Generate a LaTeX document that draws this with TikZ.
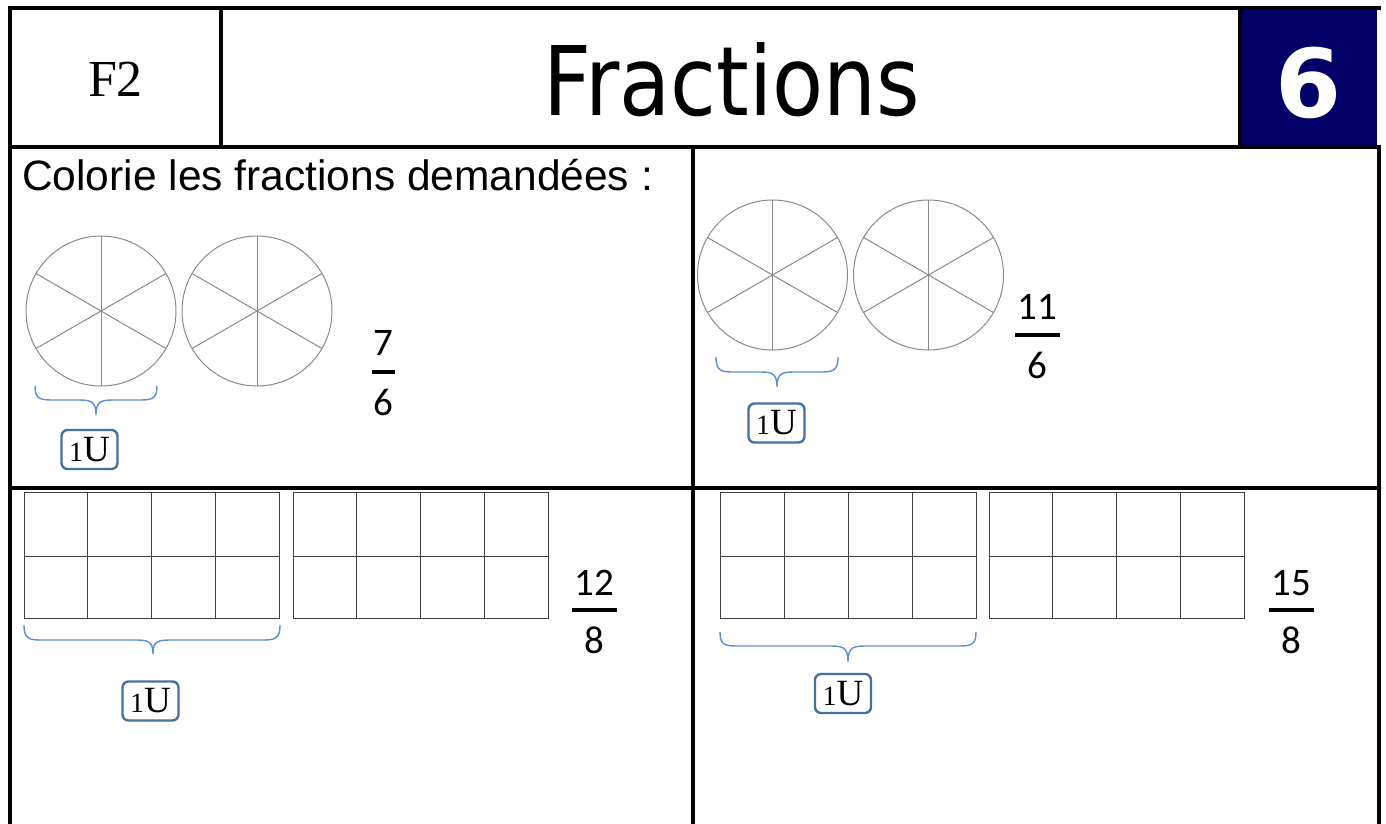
\documentclass[tikz,border=0pt]{standalone}
\usepackage{fontspec}
\usetikzlibrary{calc}
\newfontfamily\sansA{Liberation Sans}
\newfontfamily\serifT{Liberation Serif}
\newfontfamily\verd{DejaVu Sans}
\newfontfamily\cali{Carlito}
\definecolor{navy}{HTML}{000066}
\definecolor{bracecol}{HTML}{5B8FD8}
\definecolor{boxcol}{HTML}{4470A6}
\definecolor{wheelcol}{HTML}{8A8A8A}
\tikzset{
  frame/.style={line width=4pt,black,line cap=rect},
  wheel/.style={wheelcol,line width=1pt},
  cellgrid/.style={black!75,line width=1pt},
  ubr/.style={bracecol,line width=1.4pt},
  ubox/.style={draw=boxcol,line width=2.4pt,rounded corners=6pt,fill=white,
    minimum width=56pt,minimum height=39pt,inner sep=0pt,
    font=\serifT\fontsize{37}{37}\selectfont},
  fnum/.style={anchor=base,inner sep=0pt,font=\cali\fontsize{39}{39}\selectfont},
  fbar/.style={line width=3.5pt,black},
}
\newcommand{\wheelat}[3]{%
  \draw[wheel] (#1,#2) circle (#3);
  \draw[wheel] (#1,#2-#3) -- (#1,#2+#3);
  \draw[wheel] ($(#1,#2)+(30:#3)$) -- ($(#1,#2)+(210:#3)$);
  \draw[wheel] ($(#1,#2)+(150:#3)$) -- ($(#1,#2)+(330:#3)$);
}
\newcommand{\gridat}[2]{%
  \draw[cellgrid] (#1,492) rectangle (#2,618);
  \draw[cellgrid] (#1,556) -- (#2,556);
  \foreach \k in {1,2,3} {\draw[cellgrid] ({#1+(#2-#1)*\k/4},492) -- ({#1+(#2-#1)*\k/4},618);}
}
\newcommand{\bracedraw}[6]{%
  \draw[ubr] (#1,#4) .. controls (#1,#5) and (#1+6,#5) .. (#1+20,#5) -- (#3-20,#5)
    .. controls (#3-6,#5) and (#3,#5) .. (#3,#6) .. controls (#3,#5) and (#3+6,#5) .. (#3+20,#5)
    -- (#2-20,#5) .. controls (#2-6,#5) and (#2,#5) .. (#2,#4);
}
\begin{document}
\begin{tikzpicture}[x=1pt,y=-1pt]
\useasboundingbox (0,0) rectangle (1386,823);
\fill[white] (0,0) rectangle (1386,823);
% header
\fill[navy] (1240,8) rectangle (1377,147);
\draw[frame] (10,8) -- (1379,8);
\draw[frame] (10,8) -- (10,823);
\draw[frame] (10,147) -- (1379,147);
\draw[frame] (221,8) -- (221,147);
\draw[frame] (1240,8) -- (1240,147);
\draw[frame] (1379,147) -- (1379,823);
\draw[frame] (693,147) -- (693,823);
\draw[frame] (10,487.5) -- (1379,487.5);
\node[font=\serifT\fontsize{52}{52}\selectfont,inner sep=0pt] (f2) at (115.5,79) {F2};
\node[font=\verd\fontsize{96}{96}\selectfont,anchor=base,inner sep=0pt] (title) at (731.5,115) {\scalebox{0.87}[1]{Fractions}};
\node[font=\verd\bfseries\fontsize{95}{95}\selectfont,text=white,anchor=base,inner sep=0pt] (num) at (1309,117) {6};
\node[font=\sansA\fontsize{42.5}{42.5}\selectfont,anchor=base west,inner sep=0pt] (instr) at (22,190) {Colorie les fractions demandées :};
% wheels
\wheelat{101}{311}{75}
\wheelat{257}{311}{75}
\wheelat{772.5}{275}{75}
\wheelat{928.5}{275}{75}
% grids
\gridat{24}{279}
\gridat{293}{548}
\gridat{720}{976}
\gridat{989}{1244}
% braces
\bracedraw{35}{157}{96}{386}{400}{415}
\bracedraw{716}{838}{777}{357}{372}{387}
\bracedraw{24}{280}{153}{625}{640}{654}
\bracedraw{720}{976}{848}{632}{646}{662}
% unit boxes
\node[ubox] (u1) at (89.5,449.5) {{\fontsize{28}{28}\selectfont 1}U};
\node[ubox] (u2) at (776.5,423) {{\fontsize{28}{28}\selectfont 1}U};
\node[ubox] (u3) at (150.5,701) {{\fontsize{28}{28}\selectfont 1}U};
\node[ubox] (u4) at (843,693.5) {{\fontsize{28}{28}\selectfont 1}U};
% fractions
\node[fnum] (a1) at (383.5,355) {7};
\draw[fbar] (372,372) -- (395,372);
\node[fnum] (a2) at (383.5,415) {6};
\node[fnum] (b1) at (1037.5,319) {11};
\draw[fbar] (1015,335) -- (1060,335);
\node[fnum] (b2) at (1037.5,378) {6};
\node[fnum] (c1) at (594.5,595) {12};
\draw[fbar] (572,610) -- (617,610);
\node[fnum] (c2) at (594.5,653) {8};
\node[fnum] (d1) at (1291.5,595) {15};
\draw[fbar] (1269,610) -- (1314,610);
\node[fnum] (d2) at (1291.5,653) {8};
\end{tikzpicture}
\end{document}
